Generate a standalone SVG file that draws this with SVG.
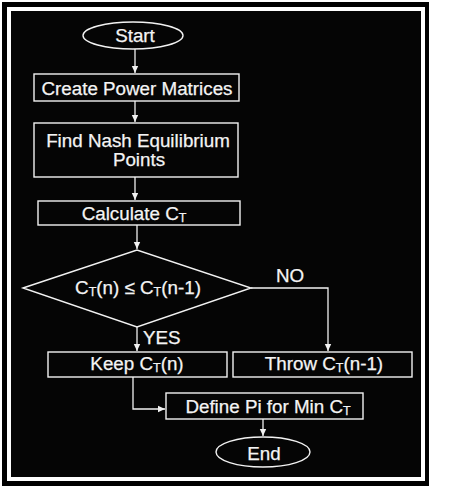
<svg xmlns="http://www.w3.org/2000/svg" width="449" height="487" viewBox="0 0 449 487">
<style>
.shape{fill:none;stroke:#f2f2f2;stroke-width:1.4}
.conn{fill:none;stroke:#f2f2f2;stroke-width:1.3}
text{font-family:"Liberation Sans",Arial,sans-serif;font-size:18.8px;fill:#f4f4f4;stroke:#f4f4f4;stroke-width:0.25}
.c{text-anchor:middle}
.sub{font-size:12.5px}
</style>
<defs>
<marker id="arr" markerUnits="userSpaceOnUse" markerWidth="8" markerHeight="8" viewBox="0 0 8 8" refX="7" refY="4" orient="auto">
<path d="M0,0.8 L7,4 L0,7.2 Z" fill="#f2f2f2"/>
</marker>
</defs>
<rect x="0" y="0" width="449" height="487" fill="#fff"/>
<rect x="2" y="2" width="427" height="484" fill="#000"/>
<rect x="7" y="7" width="418" height="474" fill="#fff"/>
<rect x="11" y="11" width="410" height="466" fill="#050505"/>

<g id="connectors">
<path class="conn" d="M135,49 V73" marker-end="url(#arr)"/>
<path class="conn" d="M135,101 V122" marker-end="url(#arr)"/>
<path class="conn" d="M135,177 V200" marker-end="url(#arr)"/>
<path class="conn" d="M137,225 V249" marker-end="url(#arr)"/>
<path class="conn" d="M137,327 V351" marker-end="url(#arr)"/>
<path class="conn" d="M251,288 H328 V351" marker-end="url(#arr)"/>
<path class="conn" d="M133,377 V409 H165" marker-end="url(#arr)"/>
<path class="conn" d="M263,419 V436" marker-end="url(#arr)"/>
<text x="276" y="282">NO</text>
<text x="143" y="344">YES</text>
</g>

<g id="start">
<ellipse class="shape" cx="133" cy="35.5" rx="50" ry="13.5"/>
<text class="c" x="135" y="42">Start</text>
</g>

<g id="create">
<rect class="shape" x="34" y="74" width="205" height="27"/>
<text class="c" x="137" y="95">Create Power Matrices</text>
</g>

<g id="find">
<rect class="shape" x="34" y="123" width="204" height="54"/>
<text class="c" x="138" y="147">Find Nash Equilibrium</text>
<text class="c" x="139" y="166">Points</text>
</g>

<g id="calculate">
<rect class="shape" x="38" y="201" width="202" height="24"/>
<text class="c" x="134" y="220">Calculate C<tspan class="sub" dy="2">T</tspan></text>
</g>

<g id="decision">
<polygon class="shape" points="23,288 137,250 251,288 137,327"/>
<text class="c" x="138" y="294">C<tspan class="sub" dy="2">T</tspan><tspan dy="-2">(n) ≤ C</tspan><tspan class="sub" dy="2">T</tspan><tspan dy="-2">(n-1)</tspan></text>
</g>

<g id="keep">
<rect class="shape" x="48" y="352" width="179" height="25"/>
<text class="c" x="137" y="370">Keep C<tspan class="sub" dy="2">T</tspan><tspan dy="-2">(n)</tspan></text>
</g>

<g id="throw">
<rect class="shape" x="233" y="352" width="179" height="25"/>
<text class="c" x="324" y="370">Throw C<tspan class="sub" dy="2">T</tspan><tspan dy="-2">(n-1)</tspan></text>
</g>

<g id="define">
<rect class="shape" x="166" y="393" width="197" height="26"/>
<text class="c" x="268" y="413">Define Pi for Min C<tspan class="sub" dy="2">T</tspan></text>
</g>

<g id="end">
<ellipse class="shape" cx="263" cy="452" rx="47" ry="15"/>
<text class="c" x="264" y="460">End</text>
</g>
</svg>
